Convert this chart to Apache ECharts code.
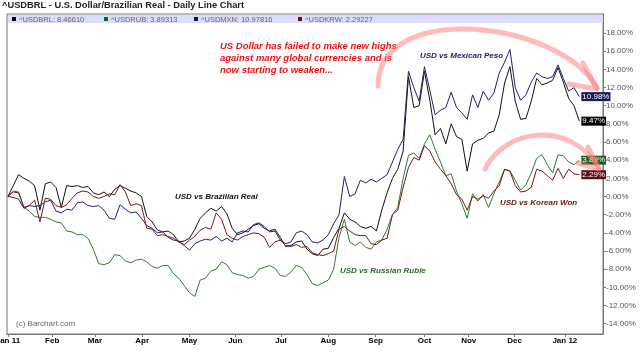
<!DOCTYPE html>
<html><head><meta charset="utf-8">
<script src="https://cdn.jsdelivr.net/npm/echarts@6/dist/echarts.min.js"></script>
<style>html,body{margin:0;padding:0;background:#fff}#c{width:640px;height:363px}</style>
</head><body><div id="c"></div>
<script>
// sampling step in calendar days from Jan 3 2011
const STEP_DAYS = 3.5;
const monthLabels = ['Jan 11','Feb','Mar','Apr','May','Jun','Jul','Aug','Sep','Oct','Nov','Dec','Jan 12'];
const monthDays = [0,29,57,88,119,149,179,210,241,273,302,332,365];
const yTicks = [-14,-12,-10,-8,-6,-4,-2,0,2,4,6,8,10,12,14,16,18];
const seriesNames = ['^USDBRL','^USDRUB','^USDMXN','^USDKRW'];
const legendValues = ['8.46610','3.89313','10.97816','2.29227'];
const endLabels = ['9.47%','3.89%','10.98%','2.29%'];

const brl = [0,1.2,2.4,2.0,1.7,1.2,-1.5,1.4,1.6,1.0,-1.2,1.2,1.1,1.2,1.0,1.1,0.4,0.2,0.5,0.0,
 0.8,1.2,0.9,0.6,0.4,0.0,-2.2,-2.8,-3.7,-3.9,-3.8,-4.2,-5.0,-4.9,-4.6,-3.6,-2.4,-1.8,-1.3,-1.6,
 -1.1,-1.9,-3.5,-4.2,-4.0,-3.6,-3.2,-3.0,-3.5,-3.8,-3.6,-4.5,-5.5,-5.4,-5.0,-4.9,-5.8,-6.3,-6.5,-5.8,
 -5.7,-4.5,-3.5,-1.8,-2.5,-2.8,-3.3,-3.5,-3.3,-3.8,-1.5,0.4,2.0,3.0,5.0,13.2,9.8,10.0,13.8,10.6,
 6.8,7.5,5.8,8.0,6.6,6.3,2.8,5.8,6.2,6.4,7.0,7.2,9.0,12.5,14.3,10.5,8.5,8.6,10.5,13.0,
 12.3,12.5,12.8,14.2,12.6,10.8,10.0,8.3];
const rub = [0,0.6,0.5,-1.2,-1.6,-2.2,-2.3,-2.3,-2.5,-2.8,-2.9,-3.8,-3.9,-4.2,-4.2,-4.6,-5.8,-7.4,-7.5,-7.3,
 -6.4,-6.5,-7.1,-7.3,-7.0,-6.9,-7.2,-7.7,-7.9,-7.6,-7.6,-8.5,-9.0,-9.8,-10.6,-11.0,-9.2,-9.0,-8.2,-8.0,
 -7.2,-7.5,-8.4,-8.6,-8.7,-9.0,-8.8,-8.0,-7.8,-7.6,-7.9,-8.7,-8.8,-8.3,-7.6,-7.8,-8.6,-9.6,-9.8,-9.5,
 -9.2,-8.0,-4.5,-2.5,-5.0,-5.4,-5.0,-5.6,-5.8,-5.0,-4.8,-3.6,-2.0,-1.2,2.0,4.5,4.8,4.2,5.8,6.8,
 5.2,3.8,2.3,2.5,0.6,-0.8,-2.4,0.3,-0.5,0.2,-1.2,0.3,1.6,3.0,2.8,1.8,0.7,1.3,2.6,4.2,
 4.6,3.5,2.6,4.6,4.5,3.8,3.5,4.0];
const mxn = [0,-0.1,-0.3,-1.3,-1.0,-1.1,-1.0,-0.6,-0.4,-1.6,-1.8,-1.4,-1.5,-0.7,-0.6,-1.0,-1.1,-1.0,-1.5,-2.4,
 -2.5,-0.9,-1.4,-1.8,-1.7,-2.4,-3.2,-3.5,-4.0,-3.9,-4.5,-4.8,-4.9,-5.4,-5.9,-5.2,-4.9,-4.7,-4.8,-4.4,
 -4.9,-4.6,-5.0,-4.0,-3.8,-3.9,-3.1,-2.9,-3.3,-3.9,-3.8,-4.8,-5.2,-5.0,-4.0,-3.8,-4.2,-5.0,-5.1,-4.8,
 -4.2,-3.0,-2.0,2.2,0.0,0.3,1.8,1.5,1.9,1.6,2.0,2.4,3.8,5.2,6.3,13.8,12.0,10.5,14.3,11.7,
 9.0,9.5,9.8,11.5,9.8,9.2,8.5,11.2,9.8,11.6,10.6,11.4,13.6,14.8,16.2,12.0,10.6,11.2,12.6,13.6,
 13.2,13.0,13.2,14.5,13.0,11.6,12.0,11.0];
const krw = [0,0.5,0.4,-1.2,-1.0,-0.4,-2.8,-0.2,-0.3,-1.0,-1.2,-0.9,-0.2,0.4,0.6,0.5,0.0,-0.2,0.0,0.3,
 0.2,1.3,0.5,-1.0,-0.8,-1.0,-3.5,-3.6,-4.3,-4.2,-4.4,-4.6,-5.0,-5.3,-4.8,-4.4,-3.7,-3.4,-3.6,-1.8,
 -2.5,-4.2,-4.6,-4.8,-4.4,-4.2,-4.0,-4.1,-4.5,-5.6,-5.0,-4.8,-5.4,-5.5,-5.3,-5.6,-5.5,-6.2,-6.4,-6.5,
 -6.3,-6.0,-3.6,-3.3,-3.8,-4.2,-4.3,-4.3,-5.2,-5.3,-4.8,-4.6,-2.0,-1.5,1.0,3.2,4.3,4.0,5.6,5.0,
 3.8,3.0,2.3,1.4,0.2,-0.3,-1.5,0.0,-0.3,0.1,-0.2,0.6,1.2,3.0,2.8,1.2,0.5,0.6,1.0,3.0,
 2.8,2.3,1.8,3.1,2.0,3.0,2.5,2.4];

const lineColors = ['#111111','#2e7d2e','#1f1f80','#7a1515'];
const boxColors = ['#000000','#1d5c1d','#1a1a55','#5c1010'];
const legendSquares = ['#000000','#0b6b0b','#14145c','#6b0b0b'];
const allData = [brl, rub, mxn, krw];
const FONT = '"Liberation Sans", Arial, sans-serif';

const chart = echarts.init(document.getElementById('c'), null, {renderer:'canvas'});

const series = allData.map((arr, k) => ({
  name: seriesNames[k], type: 'line', showSymbol: false, smooth: false,
  data: arr.map((v, i) => [i * STEP_DAYS, v]),
  lineStyle: {color: lineColors[k], width: 1},
  itemStyle: {color: lineColors[k]},
  emphasis: {disabled: true}, animation: false, z: [2,3,4,5][k],
  endLabel: {show: true, formatter: endLabels[k], backgroundColor: boxColors[k],
    color: '#fff', fontSize: 8, fontFamily: FONT, padding: [1,1,0,1], distance: 2}
}));

const legendX = [12, 104, 194, 298];
const pink = 'rgba(255,120,120,0.5)';
const graphic = [
  {type:'text', left: 2, top: 1, style:{text:'^USDBRL - U.S. Dollar/Brazilian Real - Daily Line Chart',
    font:'bold 9.3px ' + FONT, fill:'#222'}},
  {type:'rect', shape:{x:8, y:15, width:595, height:8}, style:{fill:'#dcdcff'}, z:1},
  {type:'text', left: 16, top: 320, style:{text:'(c) Barchart.com', font:'8px ' + FONT, fill:'#666'}},
  {type:'text', left: 220, top: 40, style:{text:'US Dollar has failed to make new highs\nagainst many global currencies and is\nnow starting to weaken...',
    font:'italic bold 9.5px ' + FONT, fill:'#ee1111', lineHeight: 12}},
  {type:'text', left: 420, top: 52, style:{text:'USD vs Mexican Peso', font:'italic bold 8px ' + FONT, fill:'#1a1a60'}},
  {type:'text', left: 175, top: 193, style:{text:'USD vs Brazilian Real', font:'italic bold 8px ' + FONT, fill:'#111'}},
  {type:'text', left: 340, top: 267, style:{text:'USD vs Russian Ruble', font:'italic bold 8px ' + FONT, fill:'#2a6a2a'}},
  {type:'text', left: 500, top: 199, style:{text:'USD vs Korean Won', font:'italic bold 8px ' + FONT, fill:'#6a1515'}},
  {type:'bezierCurve', shape:{x1:378,y1:86,cpx1:378,cpy1:0,cpx2:560,cpy2:20,x2:597,y2:88},
    style:{stroke:pink, lineWidth:5, fill:null, lineCap:'round'}, z:100},
  {type:'polyline', shape:{points:[[583,63],[597,89],[569,84]]},
    style:{stroke:pink, lineWidth:5, fill:null, lineCap:'round', lineJoin:'round'}, z:100},
  {type:'bezierCurve', shape:{x1:485,y1:169,cpx1:505,cpy1:128,cpx2:570,cpy2:120,x2:599,y2:168},
    style:{stroke:pink, lineWidth:5, fill:null, lineCap:'round'}, z:100},
  {type:'polyline', shape:{points:[[588,147],[599,169],[578,163]]},
    style:{stroke:pink, lineWidth:5, fill:null, lineCap:'round', lineJoin:'round'}, z:100}
];
legendX.forEach((x, k) => {
  graphic.push({type:'rect', shape:{x:x, y:17, width:4, height:4}, style:{fill:legendSquares[k]}, z:2});
  graphic.push({type:'text', left: x + 7, top: 15.5, style:{text: seriesNames[k] + ': ' + legendValues[k],
    font:'7.5px ' + FONT, fill:'#666'}, z:2});
});

chart.setOption({
  animation: false,
  backgroundColor: '#fff',
  grid: {left: 7, right: 37, top: 14, bottom: 29, show: true, borderColor: '#777', borderWidth: 1,
    containLabel: false, outerBoundsMode: 'none'},
  xAxis: {type:'value', min: -0.6, max: 390, splitLine:{show:false},
    axisLine:{show:true, onZero:false, lineStyle:{color:'#777'}},
    axisTick:{show:true, customValues: monthDays, length: 3, lineStyle:{color:'#777'}},
    axisLabel:{customValues: monthDays, formatter: v => monthLabels[monthDays.indexOf(v)],
      fontSize: 8, fontWeight:'bold', color:'#000', fontFamily: FONT, margin: 3}},
  yAxis: {type:'value', position:'right', min: -15.14, max: 20.1, splitLine:{show:false},
    axisLine:{show:true, onZero:false, lineStyle:{color:'#777'}},
    axisTick:{show:true, customValues: yTicks, length: 3, lineStyle:{color:'#777'}},
    axisLabel:{customValues: yTicks, formatter: v => v.toFixed(2) + '%', fontSize: 8,
      color:'#555', fontFamily: FONT, margin: 3}},
  series: series,
  graphic: graphic
});
</script></body></html>
